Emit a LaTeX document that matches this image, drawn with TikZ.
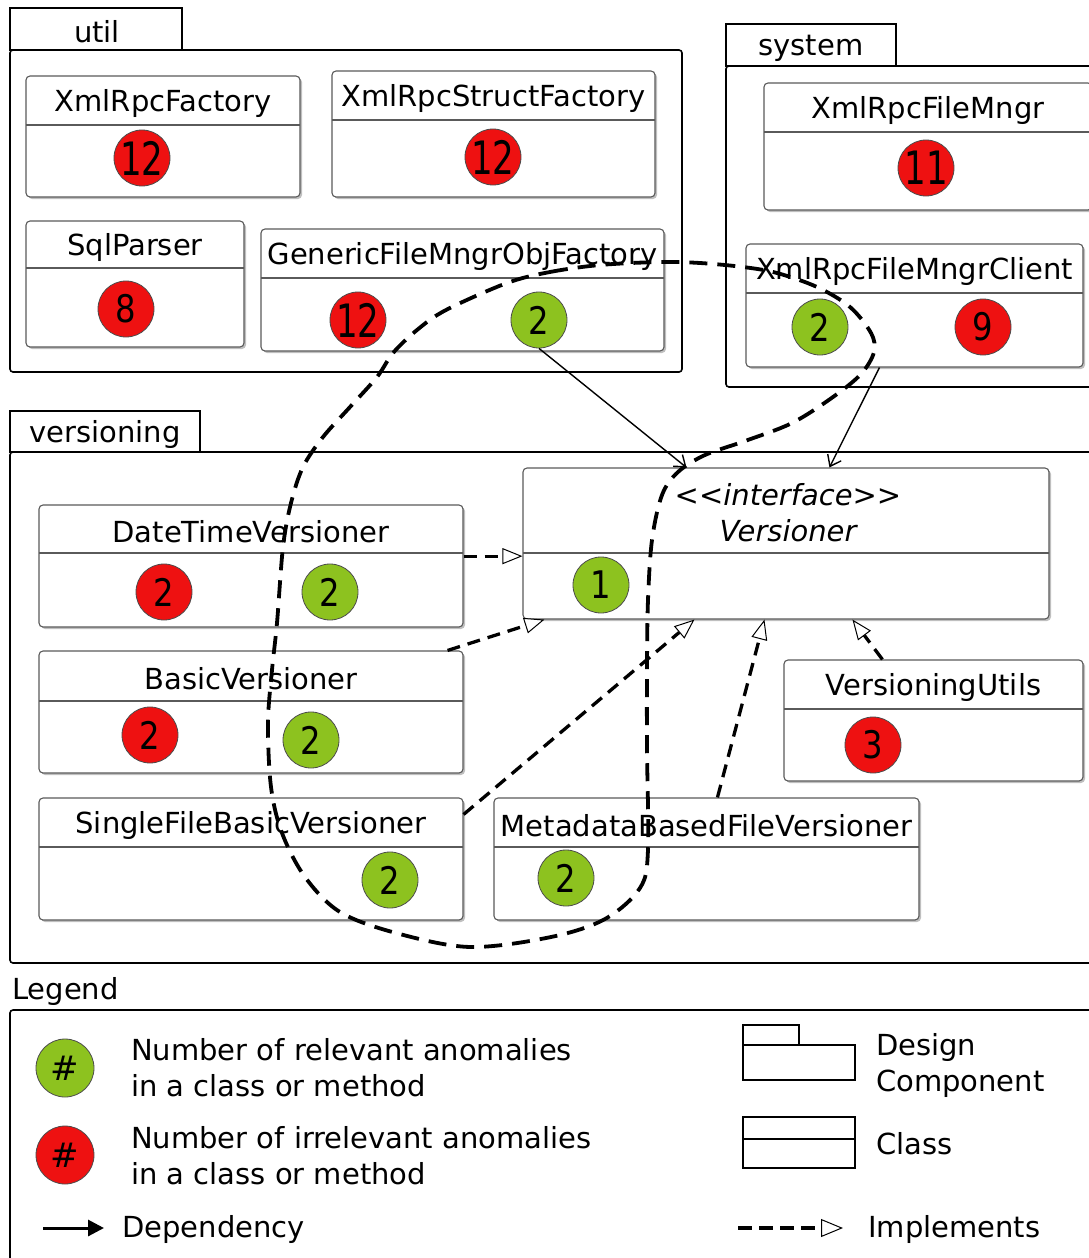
\documentclass[tikz,border=0pt]{standalone}
\usepackage{fontspec}
\usepackage{graphicx}
\setmainfont{DejaVu Sans}
\usetikzlibrary{arrows.meta,shadows,fit,calc}
\definecolor{badred}{HTML}{EE1111}
\definecolor{badgreen}{HTML}{8DC21F}
\definecolor{clsline}{HTML}{5A5A5A}

\tikzset{
  lbl/.style={font=\fontsize{29}{34}\selectfont, inner sep=0pt},
  pkgline/.style={draw=black, line width=1.6pt},
  pkgtab/.style={pkgline, inner sep=0pt, fill=white},
  pkgbody/.style={pkgline, inner sep=0pt, rounded corners=3pt},
  classbox/.style={draw=clsline, line width=1.1pt, fill=white, inner sep=0pt, rounded corners=4pt,
     drop shadow={shadow xshift=2pt, shadow yshift=-2pt, opacity=0.25, fill=black}},
  divline/.style={draw=clsline, line width=1.1pt},
  badge/.style={circle, minimum size=56pt, inner sep=0pt, draw=black!70, line width=0.8pt},
  redb/.style={badge, fill=badred},
  greenb/.style={badge, fill=badgreen},
  dep/.style={line width=1.4pt, -{Straight Barb[length=10pt,width=15pt,line width=1.4pt]}},
  impl/.style={line width=3.3pt, dash pattern=on 13pt off 8pt,
     -{Triangle[open, length=20pt, width=16pt, line width=1pt, fill=white]}},
  loopline/.style={line width=3.8pt, dash pattern=on 18pt off 10pt, line cap=butt}
}
\newcommand\onedg[1]{\fontsize{38}{38}\selectfont\scalebox{0.85}[1]{#1}}
\newcommand\twodg[1]{\fontsize{46}{46}\selectfont\scalebox{0.74}[1]{#1}}
% name, x1, y1, x2, y2, ydiv, title
\newcommand\umlclass[7]{%
  \node[classbox, fit={(#2,#3) (#4,#5)}] (#1) {};
  \draw[divline] (#2,#6) -- (#4,#6);
  \node[lbl] (#1-t) at ({(#2+#4)/2},{(#3+#6)/2+3}) {#7};
}

\begin{document}
\begin{tikzpicture}[x=1pt,y=-1pt]
\useasboundingbox (0,0) rectangle (1089,1258);
\fill[white] (0,0) rectangle (1089,1258);
\clip (0,0) rectangle (1089,1258);

% ---------- packages ----------
\node[pkgbody, fit={(10,50) (682,372)}] (util) {};
\node[pkgtab, fit={(10,8) (182,50)}] (util-tab) {};
\node[lbl] (util-l) at (97,32) {util};

\node[pkgbody, fit={(726,66) (1110,387)}] (system) {};
\node[pkgtab, fit={(726,24) (896,66)}] (system-tab) {};
\node[lbl] (system-l) at (811,48) {system};

\node[pkgbody, fit={(10,452) (1110,963)}] (versioning) {};
\node[pkgtab, fit={(10,411) (200,452)}] (versioning-tab) {};
\node[lbl] (versioning-l) at (105,434) {versioning};

% ---------- util classes ----------
\umlclass{xrf}{26}{76}{300}{197}{125}{XmlRpcFactory}
\node[redb] (xrf-r) at (142,158) {\twodg{12}};
\umlclass{xrsf}{332}{71}{655}{197}{120}{XmlRpcStructFactory}
\node[redb] (xrsf-r) at (493,157) {\twodg{12}};
\umlclass{sqlp}{26}{221}{244}{347}{268}{SqlParser}
\node[redb] (sqlp-r) at (126,309) {\onedg{8}};
\umlclass{gfm}{261}{229}{664}{351}{278}{GenericFileMngrObjFactory}
\node[redb] (gfm-r) at (358,320) {\twodg{12}};
\node[greenb] (gfm-g) at (539,320) {\onedg{2}};

% ---------- system classes ----------
\umlclass{xfm}{764}{83}{1092}{210}{132}{XmlRpcFileMngr}
\node[redb] (xfm-r) at (926,168) {\twodg{11}};
\umlclass{xrc}{746}{244}{1083}{367}{293}{XmlRpcFileMngrClient}
\node[greenb] (xrc-g) at (820,327) {\onedg{2}};
\node[redb] (xrc-r) at (983,327) {\onedg{9}};

% ---------- versioning classes ----------
\node[classbox, fit={(523,468) (1049,619)}] (ver) {};
\draw[divline] (523,553) -- (1049,553);
\node[lbl, font=\fontsize{29}{36}\selectfont\itshape, align=center] (ver-t) at (788,513)
  {<{}<interface>{}>\\Versioner};
\node[greenb] (ver-g) at (601,585) {\onedg{1}};

\umlclass{dtv}{39}{505}{463}{627}{553}{DateTimeVersioner}
\node[redb] (dtv-r) at (164,592) {\onedg{2}};
\node[greenb] (dtv-g) at (330,592) {\onedg{2}};

\umlclass{bv}{39}{651}{463}{773}{701}{BasicVersioner}
\node[redb] (bv-r) at (150,735) {\onedg{2}};
\node[greenb] (bv-g) at (311,740) {\onedg{2}};

\umlclass{sfb}{39}{798}{463}{920}{847}{SingleFileBasicVersioner}
\node[greenb] (sfb-g) at (390,880) {\onedg{2}};

\umlclass{meta}{494}{798}{919}{920}{847}{MetadataBasedFileVersioner}
\node[greenb] (meta-g) at (566,878) {\onedg{2}};

\umlclass{vu}{784}{660}{1083}{781}{709}{VersioningUtils}
\node[redb] (vu-r) at (873,745) {\onedg{3}};

% ---------- dependencies ----------
\draw[dep] (gfm-g.south) -- ([xshift=164pt]ver.north west);
\draw[dep] ([xshift=134pt]xrc.south west) -- ([xshift=307pt]ver.north west);

% ---------- implements ----------
\coordinate (dtv-o) at ($(dtv.north east)!0.42!(dtv.south east)$);
\draw[impl] (dtv-o) -- (ver.west |- dtv-o);
\draw[impl] ([xshift=-16pt]bv.north east) -- ([xshift=22pt]ver.south west);
\draw[impl] ([yshift=-17pt]sfb.north east) -- ([xshift=172pt]ver.south west);
\draw[impl] ([xshift=224pt]meta.north west) -- ([xshift=242pt]ver.south west);
\draw[impl] ([xshift=99pt]vu.north west) -- ([xshift=330pt]ver.south west);

% ---------- hand-drawn loop ----------
\draw[loopline] plot[smooth cycle, tension=0.55] coordinates {
 (507,283) (550,272) (600,265) (660,262) (700,263) (743,267) (777,273) (817,287)
 (850,307) (871,333) (874,352) (861,374) (833,397) (792,423) (745,441) (705,455)
 (678,472) (662,495) (652,540) (648,600) (647,667) (647,750) (648,850) (640,888)
 (605,919) (551,937) (470,947) (396,933) (340,912) (305,877) (282,833) (271,787)
 (268,723) (272,670) (277,623) (283,547) (291,503) (303,467) (323,437) (350,407)
 (377,377) (393,353) (417,330) (446,310)};

% ---------- legend ----------
\node[lbl, anchor=west] (leg-l) at (12,991) {Legend};
\node[pkgbody, fit={(10,1010) (1110,1280)}] (legend) {};

\node[greenb, minimum size=58pt] (leg-g) at (65,1068) {\fontsize{34}{34}\selectfont\#};
\node[lbl, anchor=west, align=left, font=\fontsize{29}{36}\selectfont] (leg-gt) at (131,1068)
  {Number of relevant anomalies\\in a class or method};
\node[redb, minimum size=58pt] (leg-r) at (65,1155) {\fontsize{34}{34}\selectfont\#};
\node[lbl, anchor=west, align=left, font=\fontsize{29}{36}\selectfont] (leg-rt) at (131,1156)
  {Number of irrelevant anomalies\\in a class or method};

\coordinate (dep-a) at (43,1228);
\coordinate (dep-b) at (104,1228);
\draw[line width=3pt, -{Triangle[length=16pt,width=16pt]}] (dep-a) -- (dep-b);
\node[lbl, anchor=west] (dep-l) at (122,1229) {Dependency};

\node[draw, line width=2pt, inner sep=0pt, fit={(743,1045) (855,1080)}] (icon-pkg) {};
\node[draw, line width=2pt, inner sep=0pt, fit={(743,1025) (799,1045)}] (icon-tab) {};
\node[lbl, anchor=west, align=left, font=\fontsize{29}{36}\selectfont] (pkg-l) at (876,1065)
  {Design\\Component};

\node[draw, line width=2pt, inner sep=0pt, fit={(743,1117) (855,1168)}] (icon-cls) {};
\draw[line width=2pt] (icon-cls.west |- 0,1139) -- (icon-cls.east |- 0,1139);
\node[lbl, anchor=west] (cls-l) at (876,1144) {Class};

\coordinate (imp-a) at (738,1228);
\coordinate (imp-b) at (843,1228);
\draw[line width=3.3pt, dash pattern=on 14pt off 7pt,
  -{Triangle[open, length=22pt, width=18pt, line width=1pt, fill=white]}] (imp-a) -- (imp-b);
\node[lbl, anchor=west] (imp-l) at (868,1229) {Implements};
\end{tikzpicture}
\end{document}
